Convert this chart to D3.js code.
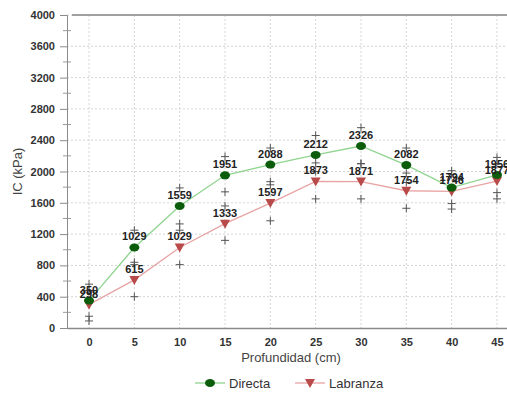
<!DOCTYPE html>
<html>
<head>
<meta charset="utf-8">
<script src="https://cdn.jsdelivr.net/npm/d3@7"></script>
<style>
  body { margin: 0; background: #fff; }
  text { font-family: Arial, "Liberation Sans", sans-serif; }
</style>
</head>
<body>
<div id="root"></div>
<script>
var depth = [0, 5, 10, 15, 20, 25, 30, 35, 40, 45];
var directa = [350, 1029, 1559, 1951, 2088, 2212, 2326, 2082, 1794, 1956];
var labranza = [298, 615, 1029, 1333, 1597, 1873, 1871, 1754, 1746, 1877];
var directaHi = [560, 1250, 1790, 2190, 2300, 2460, 2560, 2300, 2010, 2180];
var directaLo = [150, 810, 1330, 1740, 1870, 2000, 2100, 1860, 1590, 1730];
var labranzaHi = [480, 840, 1250, 1560, 1830, 2110, 2100, 1980, 1960, 2100];
var labranzaLo = [90, 400, 810, 1120, 1370, 1650, 1650, 1530, 1520, 1650];
var yTicks = [0, 400, 800, 1200, 1600, 2000, 2400, 2800, 3200, 3600, 4000];

var w = 507, h = 394;
var plotLeft = 67, plotTop = 15, plotBottom = 328, plotRight = 519;

var svg = d3.select('#root').append('svg')
  .attr('width', w)
  .attr('height', h);

var x = d3.scaleLinear().domain([-2.43, 47.43]).range([plotLeft, plotRight]);
var y = d3.scaleLinear().domain([0, 4000]).range([plotBottom, plotTop]);

// grid
var grid = svg.append('g').attr('id', 'grid');
grid.selectAll('line.gy')
  .data(yTicks.slice(1))
  .enter()
  .append('line')
  .attr('x1', plotLeft).attr('x2', plotRight)
  .attr('y1', function(d) { return y(d); })
  .attr('y2', function(d) { return y(d); })
  .attr('stroke', '#d4d4d4')
  .attr('stroke-dasharray', '2,2');
grid.selectAll('line.gx')
  .data(depth)
  .enter()
  .append('line')
  .attr('x1', function(d) { return x(d); })
  .attr('x2', function(d) { return x(d); })
  .attr('y1', plotTop).attr('y2', plotBottom)
  .attr('stroke', '#d4d4d4')
  .attr('stroke-dasharray', '2,2');

// top border
svg.append('line')
  .attr('x1', plotLeft + 5).attr('x2', plotRight)
  .attr('y1', plotTop).attr('y2', plotTop)
  .attr('stroke', '#a0a0a0')
  .attr('stroke-width', 2);

// y axis
var yAxis = svg.append('g')
  .attr('transform', 'translate(' + plotLeft + ',0)')
  .call(d3.axisLeft(y).tickValues(yTicks).tickFormat(d3.format('d')).tickSize(7).tickPadding(5));
yAxis.select('.domain').attr('stroke', '#8a8a8a');
yAxis.selectAll('.tick line').attr('stroke', '#8a8a8a');
yAxis.selectAll('text')
  .attr('fill', '#333')
  .attr('font-size', 11)
  .attr('font-weight', 'bold');
svg.append('g')
  .selectAll('line')
  .data(d3.range(200, 4000, 400))
  .enter()
  .append('line')
  .attr('x1', plotLeft - 4).attr('x2', plotLeft + 4)
  .attr('y1', function(d) { return y(d); })
  .attr('y2', function(d) { return y(d); })
  .attr('stroke', '#9a9a9a');

// x axis
var xAxis = svg.append('g')
  .attr('transform', 'translate(0,' + plotBottom + ')')
  .call(d3.axisBottom(x).tickValues(depth).tickSize(0).tickPadding(10));
xAxis.select('.domain').attr('stroke', '#8a8a8a').attr('stroke-width', 1.5);
xAxis.selectAll('text')
  .attr('fill', '#333')
  .attr('font-size', 11)
  .attr('font-weight', 'bold');

// axis titles
svg.append('text')
  .attr('transform', 'translate(22,' + ((plotTop + plotBottom) / 2) + ') rotate(-90)')
  .attr('text-anchor', 'middle')
  .attr('font-size', 13)
  .attr('fill', '#444')
  .text('IC (kPa)');
svg.append('text')
  .attr('x', 291).attr('y', 362)
  .attr('text-anchor', 'middle')
  .attr('font-size', 13)
  .attr('fill', '#444')
  .text('Profundidad (cm)');

// error crosses
var drawCross = function(vals) {
  svg.append('g')
    .selectAll('path')
    .data(vals)
    .enter()
    .append('path')
    .attr('d', function(d, i) {
      var cx = x(depth[i]), cy = y(d);
      return 'M' + (cx - 4) + ',' + cy + 'H' + (cx + 4) + 'M' + cx + ',' + (cy - 4) + 'V' + (cy + 4);
    })
    .attr('stroke', '#555')
    .attr('stroke-width', 1);
};
[directaHi, directaLo, labranzaHi, labranzaLo].forEach(drawCross);

var line = d3.line()
  .x(function(d, i) { return x(depth[i]); })
  .y(function(d) { return y(d); });

var series = [
  { name: 'Directa', vals: directa, line: '#8fd48f', mark: '#0b5d0b', sym: 'circle' },
  { name: 'Labranza', vals: labranza, line: '#e8a4a4', mark: '#b84a4a', sym: 'tri' }
];

var drawMark = function(g, sym, color, cx, cy) {
  if (sym === 'circle') {
    g.append('ellipse')
      .attr('cx', cx).attr('cy', cy)
      .attr('rx', 5).attr('ry', 4)
      .attr('fill', color);
  } else {
    g.append('path')
      .attr('d', 'M' + (cx - 5) + ',' + (cy - 4) + 'L' + (cx + 5) + ',' + (cy - 4) + 'L' + cx + ',' + (cy + 5) + 'Z')
      .attr('fill', color);
  }
};

// labranza first, directa on top
series.slice().reverse().forEach(function(s) {
  var g = svg.append('g');
  g.append('path')
    .attr('d', line(s.vals))
    .attr('fill', 'none')
    .attr('stroke', s.line)
    .attr('stroke-width', 1.3);
  s.vals.forEach(function(v, i) {
    drawMark(g, s.sym, s.mark, x(depth[i]), y(v));
  });
});

series.forEach(function(s) {
  svg.append('g')
    .selectAll('text')
    .data(s.vals)
    .enter()
    .append('text')
    .attr('x', function(d, i) { return x(depth[i]); })
    .attr('y', function(d) { return y(d) - 7; })
    .attr('text-anchor', 'middle')
    .attr('font-size', 11)
    .attr('font-weight', 'bold')
    .attr('fill', '#222')
    .text(function(d) { return d; });
});

// legend
var lg = svg.append('g').attr('transform', 'translate(0,383)');
var lx = [195, 295];
series.forEach(function(s, i) {
  lg.append('line')
    .attr('x1', lx[i]).attr('x2', lx[i] + 30)
    .attr('y1', 0).attr('y2', 0)
    .attr('stroke', s.line)
    .attr('stroke-width', 1.3);
  drawMark(lg, s.sym, s.mark, lx[i] + 15, 0);
  lg.append('text')
    .attr('x', lx[i] + 34).attr('y', 5)
    .attr('font-size', 13)
    .attr('fill', '#333')
    .text(s.name);
});
</script>
</body>
</html>
